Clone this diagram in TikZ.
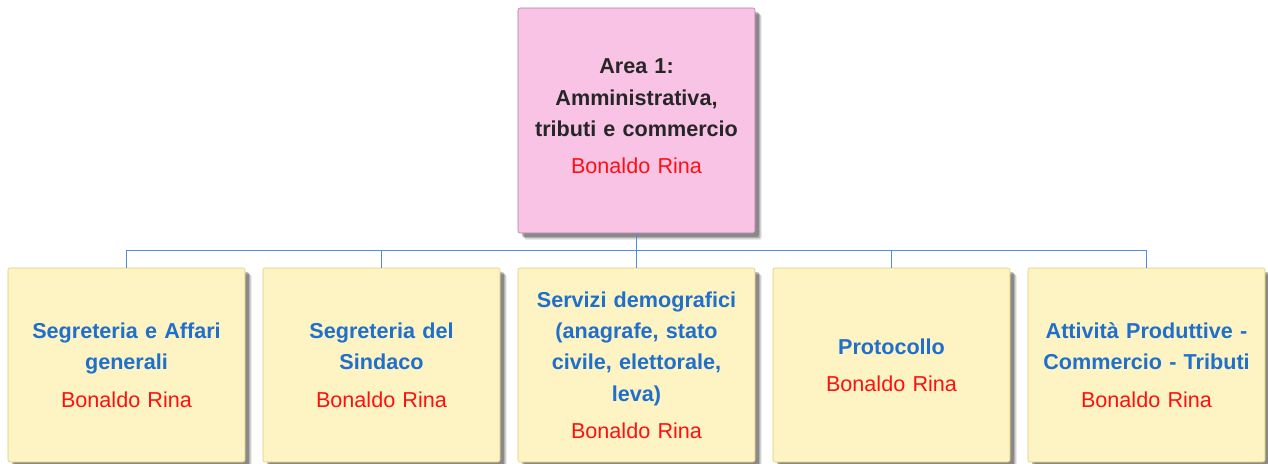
\documentclass[tikz,border=0pt]{standalone}
\usepackage{fontspec}
\setmainfont{Liberation Sans}
\usepackage{tikz}
\usetikzlibrary{shadows}

\definecolor{areapink}{HTML}{F9C3E6}
\definecolor{areaedge}{HTML}{B27A9E}
\definecolor{ufficio}{HTML}{FDF3C3}
\definecolor{ufficioedge}{HTML}{E2CC72}
\definecolor{titleblue}{HTML}{1F6FCC}
\definecolor{linkblue}{HTML}{4F8EDB}
\definecolor{nomered}{HTML}{FF1010}

\tikzset{
  softshadow/.style={
    drop shadow={shadow xshift=5pt, shadow yshift=-5pt, opacity=.12, fill=black},
    drop shadow={shadow xshift=4pt, shadow yshift=-4pt, opacity=.18, fill=black},
    drop shadow={shadow xshift=3pt, shadow yshift=-3pt, opacity=.25, fill=black}},
  areabox/.style={draw=areaedge, fill=areapink, rounded corners=1.5pt,
    minimum width=177.75pt, minimum height=168.75pt, text width=168pt, align=center, softshadow},
  ufficiobox/.style={draw=ufficioedge, fill=ufficio, rounded corners=1.5pt,
    minimum width=177.75pt, minimum height=145.5pt, text width=168pt, align=center, softshadow},
  link/.style={draw=linkblue, line width=0.6pt}
}
\newcommand{\titolo}[1]{{\bfseries #1\par}}
\newcommand{\nome}{\vspace{4.5pt}\textcolor{nomered}{Bonaldo Rina}}

\begin{document}
\begin{tikzpicture}[x=0.75pt,y=-0.75pt,font=\fontsize{16.2pt}{23.5pt}\selectfont]
\useasboundingbox (0,0) rectangle (1268,464);
\fill[white] (0,0) rectangle (1268,464);
% responsabile d'area
\node[areabox, text=black!85] (area) at (636.5,120.5)
  {\titolo{Area 1:\\Amministrativa,\\tributi e commercio}\nome\par\vspace{6pt}};
% uffici
\node[ufficiobox] (seg) at (126.5,365)
  {\titolo{\color{titleblue}Segreteria e Affari\\generali}\nome\par\vspace{3pt}};
\node[ufficiobox] (sind) at (381.5,365)
  {\titolo{\color{titleblue}Segreteria del\\Sindaco}\nome\par\vspace{3pt}};
\node[ufficiobox] (demo) at (636.5,365)
  {\titolo{\color{titleblue}Servizi demografici\\(anagrafe, stato\\civile, elettorale,\\leva)}\nome\par\vspace{3pt}};
\node[ufficiobox] (prot) at (891.5,365)
  {\titolo{\color{titleblue}Protocollo}\nome\par\vspace{3pt}};
\node[ufficiobox] (att) at (1146.5,365)
  {\titolo{\color{titleblue}Attività Produttive -\\Commercio - Tributi}\nome\par\vspace{3pt}};
% collegamenti
\coordinate (bus) at (636.5,250);
\draw[link] (area.south) -- (bus);
\foreach \u in {seg,sind,demo,prot,att}
  \draw[link] (bus) -| (\u.north);
\end{tikzpicture}
\end{document}
